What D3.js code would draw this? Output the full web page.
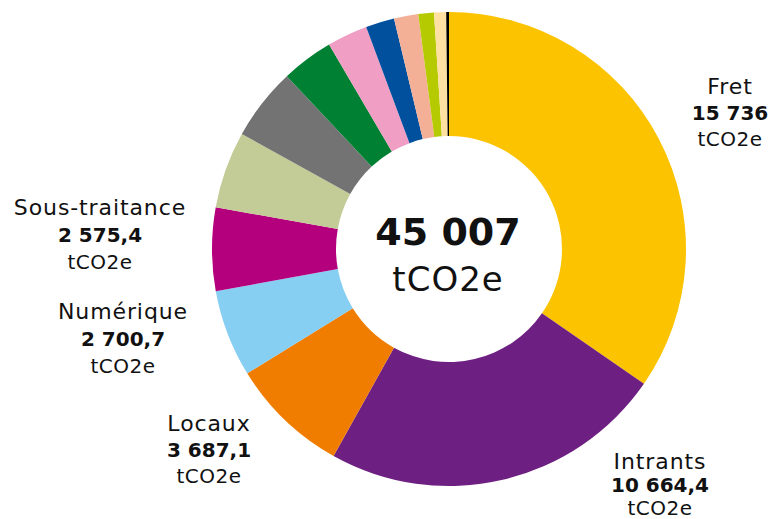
<!DOCTYPE html>
<html lang="fr">
<head>
    <meta charset="UTF-8">
    <title>Emissions</title>
    <style>
        body { margin: 0; background: #fff; }
        text { font-family: "DejaVu Sans", sans-serif; fill: #111; }
    </style>
</head>
<script src="https://d3js.org/d3.v7.min.js"></script>
<body>
<svg width="771" height="519" class="donut"></svg>

<script>
    // postes, dans l'ordre du graphique (sens horaire depuis midi)
    var categories = ["Fret", "Intrants", "Locaux", "Numérique", "Sous-traitance",
        "Autre 1", "Autre 2", "Autre 3", "Autre 4", "Autre 5", "Autre 6", "Autre 7", "Autre 8", "Autre 9"];
    var values = [15736, 10664.4, 3687.1, 2700.7, 2575.4,
        2385, 2242, 1614, 1255, 888, 751, 485, 372, 86];
    var colors = ["#fbc300", "#6e2082", "#f07d00", "#86cef2", "#b5007d",
        "#c3cb96", "#737373", "#008033", "#f09ec4", "#00509d", "#f4b096", "#b5ca00", "#ffe0a3", "#000000"];
    var labelled = ["Fret", "Intrants", "Locaux", "Numérique", "Sous-traitance"];
    var total = 45007; // total affiché au centre
    var unit = "tCO2e";

    var data = categories.map(function (c, i) {
        return {name: c, value: values[i], color: colors[i]};
    });

    var fr = d3.formatLocale({decimal: ",", thousands: " ", grouping: [3], currency: ["", " €"]});
    function fmt(v) {
        return Number.isInteger(v) ? fr.format(",")(v) : fr.format(",.1f")(v);
    }

    var svg = d3.select("svg.donut"),
        cx = 449, cy = 249,
        outer = 237, inner = 113;

    var g = svg.append("g")
        .attr("transform", "translate(" + cx + "," + cy + ")");

    var pie = d3.pie().sort(null).value(function (d) { return d.value; });
    var arc = d3.arc().innerRadius(inner).outerRadius(outer);

    g.selectAll(".slice")
        .data(pie(data))
        .enter().append("path")
        .attr("class", "slice")
        .attr("d", arc)
        .attr("fill", function (d) { return d.data.color; });

    // total au centre
    g.append("text")
        .attr("text-anchor", "middle")
        .attr("x", -1)
        .attr("y", -4)
        .attr("font-size", "38px")
        .attr("font-weight", "bold")
        .text(fmt(total));
    g.append("text")
        .attr("text-anchor", "middle")
        .attr("x", -1)
        .attr("y", 42)
        .attr("font-size", "34px")
        .attr("letter-spacing", "1px")
        .text(unit);

    // positions des étiquettes (centre du bloc, première ligne, interligne)
    var labelPos = {
        "Fret": [730, 94, 26],
        "Intrants": [660, 469, 23],
        "Locaux": [209, 431, 26],
        "Numérique": [123, 319, 27],
        "Sous-traitance": [100, 215, 27]
    };

    data.filter(function (d) { return labelled.indexOf(d.name) >= 0; })
        .forEach(function (d) {
            var p = labelPos[d.name];
            var t = svg.append("text")
                .attr("text-anchor", "middle")
                .attr("x", p[0])
                .attr("y", p[1]);
            t.append("tspan")
                .attr("x", p[0])
                .attr("font-size", "22px")
                .attr("letter-spacing", "0.9px")
                .text(d.name);
            t.append("tspan")
                .attr("x", p[0])
                .attr("dy", p[2])
                .attr("font-size", "20px")
                .attr("font-weight", "bold")
                .text(fmt(d.value));
            t.append("tspan")
                .attr("x", p[0])
                .attr("dy", p[2])
                .attr("font-size", "20px")
                .attr("letter-spacing", "0.5px")
                .text(unit);
        });
</script>
</body>
</html>
